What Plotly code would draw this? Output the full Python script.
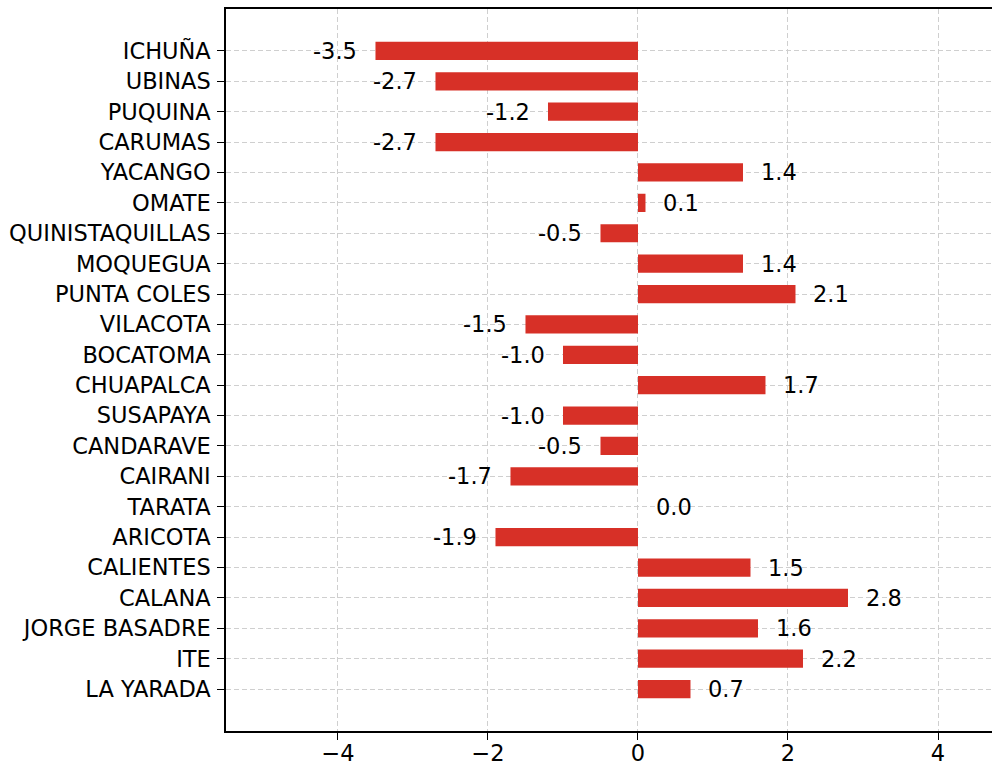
import plotly.graph_objects as go

categories = ["ICHUÑA", "UBINAS", "PUQUINA", "CARUMAS", "YACANGO", "OMATE",
              "QUINISTAQUILLAS", "MOQUEGUA", "PUNTA COLES", "VILACOTA", "BOCATOMA",
              "CHUAPALCA", "SUSAPAYA", "CANDARAVE", "CAIRANI", "TARATA", "ARICOTA",
              "CALIENTES", "CALANA", "JORGE BASADRE", "ITE", "LA YARADA"]
values = [-3.5, -2.7, -1.2, -2.7, 1.4, 0.1, -0.5, 1.4, 2.1, -1.5, -1.0,
          1.7, -1.0, -0.5, -1.7, 0.0, -1.9, 1.5, 2.8, 1.6, 2.2, 0.7]
x_ticks = [-4, -2, 0, 2, 4]

FONT = "DejaVu Sans"
FS = 22.5
fig = go.Figure()
fig.add_trace(go.Bar(
    x=values, y=categories, orientation="h",
    marker=dict(color="#d73027", line=dict(width=0)),
    width=0.6,
))

for c, v in zip(categories, values):
    neg = v < 0
    fig.add_annotation(
        x=v, y=c, text=f"{v:.1f}", showarrow=False,
        xanchor="right" if neg else "left",
        xshift=-16 if neg else 16,
        font=dict(family=FONT, size=FS, color="black"),
    )

n = len(categories)
fig.update_layout(
    width=992, height=766,
    margin=dict(l=226, r=0, t=9, b=35),
    plot_bgcolor="white", paper_bgcolor="white",
    showlegend=False,
    font=dict(family=FONT, size=FS, color="black"),
    xaxis=dict(
        range=[-5.493, 4.72],
        tickvals=x_ticks,
        automargin=False,
        showgrid=True, gridcolor="#cfcfcf", gridwidth=1, griddash="5px,3px",
        zeroline=False,
        showline=True, linecolor="black", linewidth=1.5, mirror=True,
        ticks="outside", ticklen=7, tickwidth=1.2, tickcolor="black",
        tickfont=dict(family=FONT, size=FS, color="black"),
        ticklabelstandoff=-6,
    ),
    yaxis=dict(
        categoryorder="array", categoryarray=categories,
        range=[n - 1 + 1.38, -1.38],
        automargin=False,
        showgrid=True, gridcolor="#cfcfcf", gridwidth=1, griddash="5px,3px",
        zeroline=False,
        showline=True, linecolor="black", linewidth=1.5,
        ticks="outside", ticklen=7, tickwidth=1.2, tickcolor="black",
        tickfont=dict(family=FONT, size=FS, color="black"),
        ticklabelstandoff=2,
    ),
)

fig.write_html("out.html", config={"displayModeBar": False},
               post_script="document.body.style.margin='0';document.body.style.overflow='hidden';")
